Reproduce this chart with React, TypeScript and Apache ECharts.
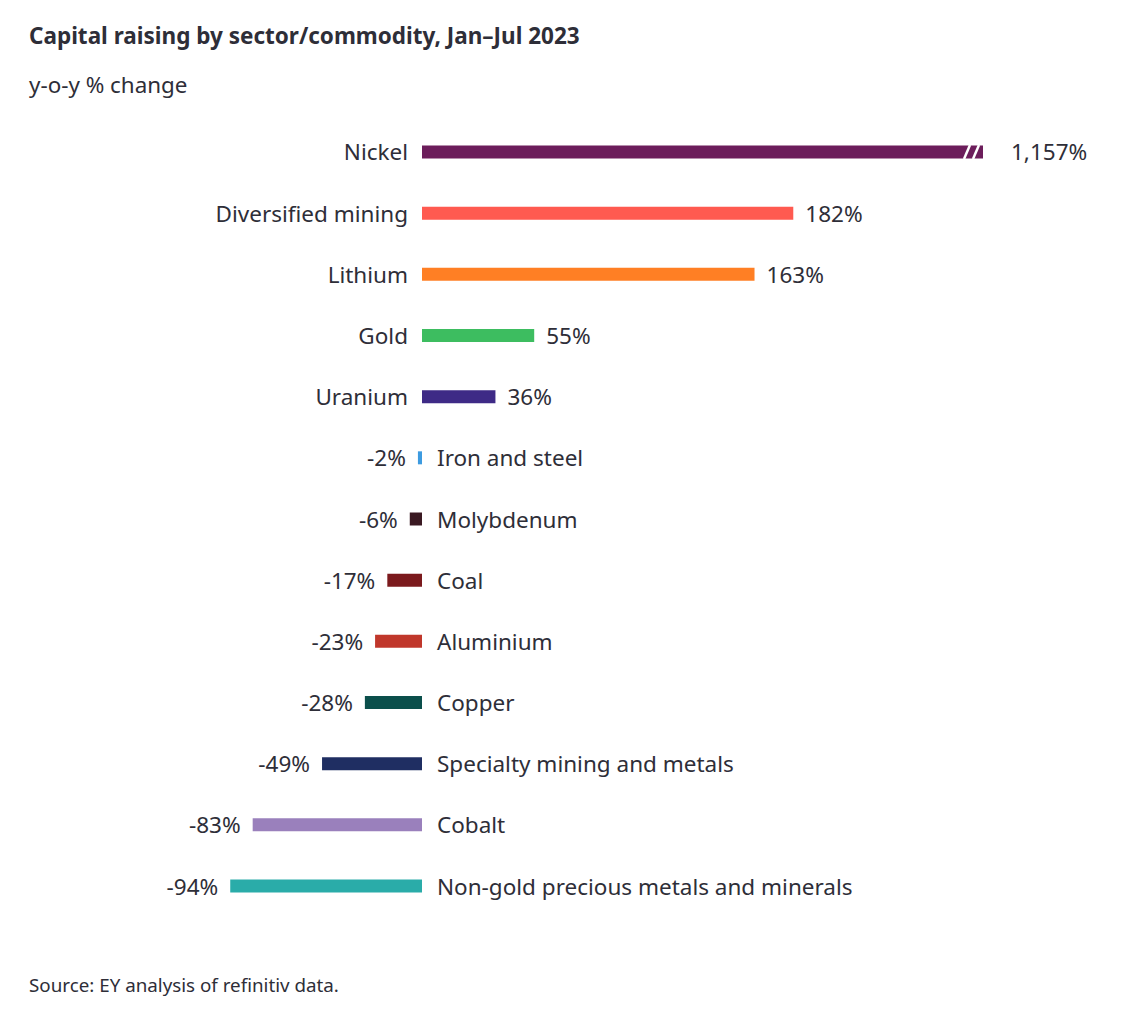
import React, { useEffect, useRef } from "react";
import * as echarts from "echarts";

const categories = [
  "Nickel",
  "Diversified mining",
  "Lithium",
  "Gold",
  "Uranium",
  "Iron and steel",
  "Molybdenum",
  "Coal",
  "Aluminium",
  "Copper",
  "Specialty mining and metals",
  "Cobalt",
  "Non-gold precious metals and minerals",
];
const values = [1157, 182, 163, 55, 36, -2, -6, -17, -23, -28, -49, -83, -94];
const colors = [
  "#6c1d5b",
  "#ff5a50",
  "#ff7f24",
  "#3dbd60",
  "#3e2a86",
  "#3d9be0",
  "#3a1922",
  "#7b1a1d",
  "#c0372b",
  "#0b4f4b",
  "#1f2e62",
  "#9a80bc",
  "#2aaca9",
];
// axis break: bars beyond this value are truncated
const breakCap = 275;
const xMin = -100;
const xMax = 300;

const TEXT = "#2e2e38";
const FONT = "'Noto Sans', 'Open Sans', sans-serif";
const LABEL_SIZE = 22.5;

const fmt = (v: number) => v.toLocaleString("en-US") + "%";

export default function App() {
  const ref = useRef<HTMLDivElement>(null);
  useEffect(() => {
    document.body.style.margin = "0";
    const chart = echarts.init(ref.current!, null, { renderer: "svg" });
    const barData = values.map((v, i) => ({
      value: Math.min(v, breakCap),
      itemStyle: { color: colors[i] },
      label: {
        show: true,
        position: v >= 0 ? "right" : "left",
        distance: v > breakCap ? 28 : 12,
        formatter: () => fmt(v),
      },
    }));
    const nameData = values.map((v, i) => ({
      value: [0, categories[i]],
      label: {
        show: true,
        position: v >= 0 ? "left" : "right",
        distance: v >= 0 ? 14 : 15,
        formatter: () => categories[i],
      },
    }));
    const breakData = values
      .map((v, i) => (v > breakCap ? [breakCap, categories[i]] : null))
      .filter(Boolean);

    chart.setOption({
      animation: false,
      textStyle: { fontFamily: FONT },
      title: [
        {
          text: "Capital raising by sector/commodity, Jan–Jul 2023",
          left: 24,
          top: 19,
          textStyle: { fontFamily: FONT, fontSize: 22.5, fontWeight: "bold", color: TEXT },
        },
        {
          text: "y-o-y % change",
          left: 24,
          top: 68,
          textStyle: { fontFamily: FONT, fontSize: 22.4, fontWeight: "normal", color: TEXT },
        },
        {
          text: "Source: EY analysis of refinitiv data.",
          left: 24,
          top: 970,
          textStyle: { fontFamily: FONT, fontSize: 18.8, fontWeight: "normal", color: TEXT },
        },
      ],
      grid: { left: 218, right: 109, top: 121.4, bottom: 103.4 },
      xAxis: {
        type: "value",
        min: xMin,
        max: xMax,
        show: false,
      },
      yAxis: {
        type: "category",
        data: categories,
        inverse: true,
        show: false,
      },
      series: [
        {
          type: "bar",
          data: barData,
          barWidth: 13,
          label: { fontFamily: FONT, fontSize: LABEL_SIZE, color: TEXT },
        },
        {
          type: "scatter",
          data: nameData,
          symbolSize: 0,
          itemStyle: { opacity: 1 },
          label: { fontFamily: FONT, fontSize: LABEL_SIZE, color: TEXT },
          silent: true,
        },
        {
          type: "custom",
          data: breakData,
          renderItem: (params: any, api: any) => {
            const end = api.coord([api.value(0), api.value(1)]);
            const h = 7;
            const mk = (cx: number) => ({
              type: "line",
              shape: { x1: cx - 3, y1: end[1] + h, x2: cx + 3, y2: end[1] - h },
              style: { stroke: "#ffffff", lineWidth: 2.5 },
            });
            return {
              type: "group",
              children: [mk(end[0] - 16), mk(end[0] - 7)],
            };
          },
          silent: true,
          z: 5,
        },
      ],
    });
    return () => chart.dispose();
  }, []);
  return <div ref={ref} style={{ width: 1143, height: 1020 }} />;
}
